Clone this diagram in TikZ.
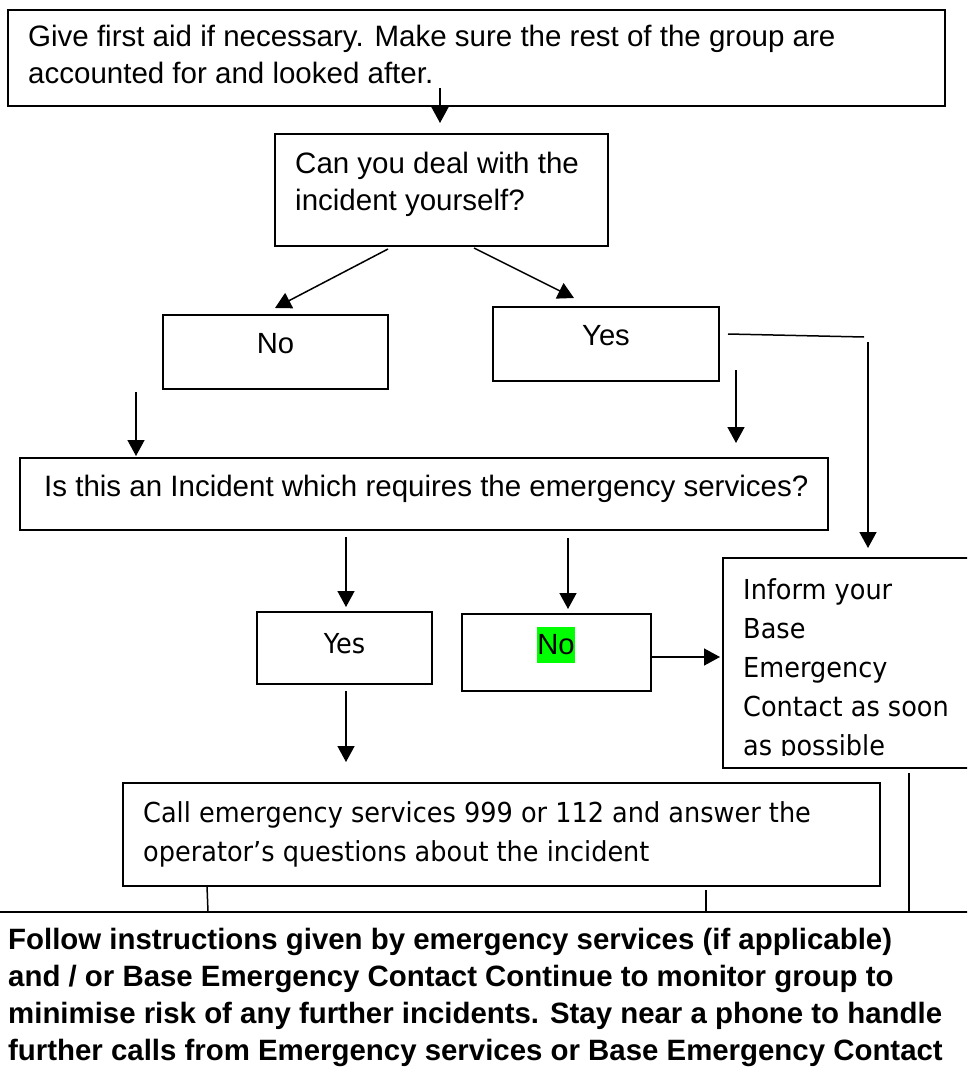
\documentclass[tikz,border=0pt]{standalone}
\usepackage{fontspec}
\setmainfont{Liberation Sans}
\newfontfamily\tahfont[FakeStretch=0.93]{DejaVu Sans}
\usetikzlibrary{arrows.meta}
\definecolor{hl}{RGB}{0,255,0}
\begin{document}
\begin{tikzpicture}[x=1pt,y=-1pt,
  box/.style={draw, line width=1.7pt, inner sep=0pt, outer sep=0pt, anchor=north west},
  thickbox/.style={box, line width=2.8pt},
  arr/.style={line width=1.5pt, -{Triangle[length=16pt,width=17pt]}},
  ln/.style={line width=1.5pt},
  ar/.style={font=\fontsize{29.5}{37}\selectfont, inner sep=0pt, anchor=base west, align=left},
  arc/.style={font=\fontsize{29.2}{37}\selectfont, inner sep=0pt, anchor=base},
  tah/.style={font=\tahfont\fontsize{27.5}{38.9}\selectfont, inner sep=0pt, anchor=base west, align=left},
  bld/.style={font=\bfseries\fontsize{29.4}{36.7}\selectfont, inner sep=0pt, anchor=base west, align=left}]
\useasboundingbox (0,0) rectangle (967,1073);
\clip (0,0) rectangle (967,1073);
\fill[white] (0,0) rectangle (967,1073);

% boxes
\node[box, minimum width=937pt, minimum height=96pt] (top) at (8,10) {};
\node[box, minimum width=333pt, minimum height=112pt] (q1) at (275,134) {};
\node[box, minimum width=225pt, minimum height=74pt] (no1) at (163,315) {};
\node[thickbox, minimum width=226pt, minimum height=74pt] (yes1) at (493,307) {};
\node[box, minimum width=808pt, minimum height=72pt] (emer) at (20,458) {};
\node[box, minimum width=175pt, minimum height=72pt] (yes2) at (257,612) {};
\node[box, minimum width=189pt, minimum height=77pt] (no2) at (462,614) {};
\node[box, minimum width=260pt, minimum height=210pt] (inform) at (723,558) {};
\node[box, minimum width=757pt, minimum height=103pt] (call) at (123,783) {};
\node[box, minimum width=985pt, minimum height=200pt] (follow) at (-9,912) {};

% texts (multi-line nodes anchored at the baseline of their last line)
\node[ar] (ttop) at (28,84) {Give first aid if necessary. Make sure the rest of the group are\\accounted for and looked after.};
\node[ar] (tq1) at (295,210) {Can you deal with the\\incident yourself?};
\node[arc] (tno1) at (no1.center |- 0,353) {No};
\node[arc] (tyes1) at (yes1.center |- 0,345) {Yes};
\node[ar] (temer) at (44,496) {Is this an Incident which requires the emergency services?};
\node[tah, anchor=base] (tyes2) at (yes2.center |- 0,653) {Yes};
\node[arc, fill=hl, text height=27pt, text depth=9pt, inner xsep=0.5pt] (tno2) at (556,654) {No};
\begin{scope}
\clip (723,558) rectangle (967,755);
\node[tah] (tinform) at (743,755) {Inform your\\Base\\Emergency\\Contact as soon\\as possible};
\end{scope}
\node[tah] (tcall) at (143,861) {Call emergency services 999 or 112 and answer the\\operator’s questions about the incident};
\node[bld] (tfollow) at (8,1060) {Follow instructions given by emergency services (if applicable)\\and / or Base Emergency Contact Continue to monitor group to\\minimise risk of any further incidents. Stay near a phone to handle\\further calls from Emergency services or Base Emergency Contact};

% connector end points
\coordinate (c1a) at (440,88);   \coordinate (c1b) at (440,123);
\coordinate (c2a) at (388,249);  \coordinate (c2b) at (275,308);
\coordinate (c3a) at (474,248);  \coordinate (c3b) at (574,298);
\coordinate (c4a) at (136,392);  \coordinate (c4b) at (136,456);
\coordinate (c5a) at (736,370);  \coordinate (c5b) at (736,443);
\coordinate (c6a) at (728,334);  \coordinate (c6b) at (864,337);
\coordinate (c7a) at (868,342);  \coordinate (c7b) at (868,548);
\coordinate (c8a) at (346,537);  \coordinate (c8b) at (346,607);
\coordinate (c9a) at (568,538);  \coordinate (c9b) at (568,609);
\coordinate (c10a) at (651,657); \coordinate (c10b) at (720,657);
\coordinate (c11a) at (346,691); \coordinate (c11b) at (346,762);
\coordinate (c12a) at (207,886); \coordinate (c12b) at (208,912);
\coordinate (c13a) at (706,890); \coordinate (c13b) at (706,912);
\coordinate (c14a) at (909,773); \coordinate (c14b) at (909,912);

\draw[arr] (c1a) -- (c1b);
\draw[arr] (c2a) -- (c2b);
\draw[arr] (c3a) -- (c3b);
\draw[arr] (c4a) -- (c4b);
\draw[arr] (c5a) -- (c5b);
\draw[ln] (c6a) -- (c6b);
\draw[arr] (c7a) -- (c7b);
\draw[arr] (c8a) -- (c8b);
\draw[arr] (c9a) -- (c9b);
\draw[arr] (c10a) -- (c10b);
\draw[arr] (c11a) -- (c11b);
\draw[ln] (c12a) -- (c12b);
\draw[ln] (c13a) -- (c13b);
\draw[ln] (c14a) -- (c14b);
\end{tikzpicture}
\end{document}
